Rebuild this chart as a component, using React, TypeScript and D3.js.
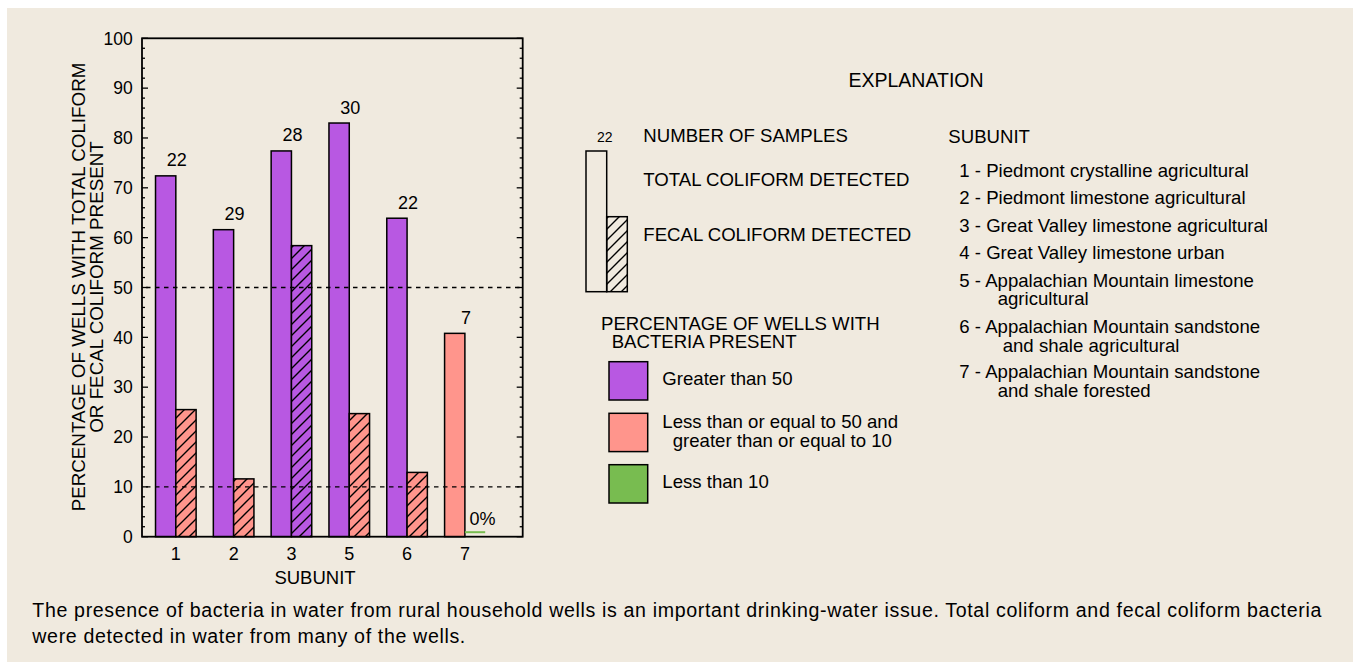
import React from "react";
import * as d3 from "d3";

const subunits = ["1", "2", "3", "5", "6", "7"];
const totalColiform = [72.4, 61.6, 77.4, 83.0, 63.9, 40.8];
const fecalColiform = [25.5, 11.6, 58.4, 24.7, 12.9, 0];
const sampleCounts = [22, 29, 28, 30, 22, 7];
const yTicks = [0, 10, 20, 30, 40, 50, 60, 70, 80, 90, 100];
const thresholds = [10, 50];
const subunitNames = [
  ["1 - Piedmont crystalline agricultural"],
  ["2 - Piedmont limestone agricultural"],
  ["3 - Great Valley limestone agricultural"],
  ["4 - Great Valley limestone urban"],
  ["5 - Appalachian Mountain limestone", "agricultural"],
  ["6 - Appalachian Mountain sandstone", "and shale agricultural"],
  ["7 - Appalachian Mountain sandstone", "and shale forested"],
];
const rangeLabels = [
  ["Greater than 50"],
  ["Less than or equal to 50 and", "greater than or equal to 10"],
  ["Less than 10"],
];

const BG = "#f0eadf";
const PURPLE = "#b858e2";
const PINK = "#ff958c";
const GREEN = "#78bc50";
const FONT = "'Liberation Sans', Arial, Helvetica, sans-serif";

const colorFor = (v: number) => (v > 50 ? PURPLE : v >= 10 ? PINK : GREEN);

export default function App() {
  const left = 142, right = 522.7, top = 38.3, bottom = 536.7;
  const y = d3.scaleLinear().domain([0, 100]).range([bottom, top]);
  const x = d3.scaleLinear().domain([-0.585, 6]).range([left, right]);
  const bw = 20.3;
  const minor = d3.range(0, 101, 2);
  const fs = 17.5;
  const lfs = 18.6;
  const hp = 11;

  return (
    <svg width={1353} height={662} style={{ position: "absolute", left: 0, top: 0 }} fontFamily={FONT}>
      <defs>
        <pattern id="hatch" patternUnits="userSpaceOnUse" width={hp} height={hp}>
          <path d={`M-2,2 L2,-2 M0,${hp} L${hp},0 M${hp - 2},${hp + 2} L${hp + 2},${hp - 2}`} stroke="#000" strokeWidth={1.4} />
        </pattern>
      </defs>
      <rect x={0} y={0} width={1353} height={662} fill="#fff" />
      <rect x={7} y={8} width={1346} height={654} fill={BG} />

      {/* bars */}
      {subunits.map((s, i) => {
        const cx = x(i);
        const t = totalColiform[i];
        const f = fecalColiform[i];
        return (
          <g key={s}>
            <rect x={cx - bw} y={y(t)} width={bw} height={y(0) - y(t)} fill={colorFor(t)} stroke="#000" strokeWidth={1.5} />
            {f > 0 ? (
              <g>
                <rect x={cx} y={y(f)} width={bw} height={y(0) - y(f)} fill={colorFor(f)} />
                <rect x={cx} y={y(f)} width={bw} height={y(0) - y(f)} fill="url(#hatch)" stroke="#000" strokeWidth={1.5} />
              </g>
            ) : (
              <g>
                <line x1={cx} x2={cx + bw} y1={y(0) - 4.5} y2={y(0) - 4.5} stroke={GREEN} strokeWidth={2} />
                <text x={cx + 4.5} y={y(0) - 11.5} fontSize={18}>0%</text>
              </g>
            )}
            <text x={cx + 1} y={y(t) - 9.5} fontSize={18} textAnchor="middle">{sampleCounts[i]}</text>
            <text x={cx} y={560} fontSize={18} textAnchor="middle">{s}</text>
          </g>
        );
      })}

      {/* threshold dashed lines */}
      {thresholds.map((v) => (
        <line key={v} x1={left + 4} x2={right} y1={y(v)} y2={y(v)} stroke="#000" strokeWidth={1.3} strokeDasharray="4.5,4.5" />
      ))}

      {/* ticks */}
      {minor.map((v) => {
        const major = v % 10 === 0;
        const len = major ? 6 : 3;
        return (
          <g key={v}>
            <line x1={left} x2={left + len} y1={y(v)} y2={y(v)} stroke="#000" strokeWidth={1.3} />
            <line x1={right} x2={right - len} y1={y(v)} y2={y(v)} stroke="#000" strokeWidth={1.3} />
          </g>
        );
      })}
      <rect x={left} y={top} width={right - left} height={bottom - top} fill="none" stroke="#000" strokeWidth={1.8} />
      {yTicks.map((v) => (
        <text key={v} x={132.7} y={y(v) + 6.3} fontSize={fs} textAnchor="end">{v}</text>
      ))}

      <text x={315} y={583.5} fontSize={18.5} textAnchor="middle">SUBUNIT</text>
      <g transform="translate(85,287) rotate(-90)">
        <text x={0} y={0} fontSize={18.8} textAnchor="middle">PERCENTAGE OF WELLS WITH TOTAL COLIFORM</text>
        <text x={0} y={17.7} fontSize={18.8} textAnchor="middle">OR FECAL COLIFORM PRESENT</text>
      </g>

      {/* Explanation */}
      <text x={916} y={87} fontSize={19.5} textAnchor="middle">EXPLANATION</text>
      <text x={604.7} y={141.7} fontSize={14} textAnchor="middle">22</text>
      <rect x={586} y={151} width={20.7} height={140.7} fill="none" stroke="#000" strokeWidth={1.5} />
      <rect x={606.7} y={216.7} width={20.6} height={75} fill="url(#hatch)" stroke="#000" strokeWidth={1.5} />
      <text x={643.3} y={142} fontSize={lfs}>NUMBER OF SAMPLES</text>
      <text x={643.3} y={186} fontSize={lfs}>TOTAL COLIFORM DETECTED</text>
      <text x={643.3} y={240.7} fontSize={lfs}>FECAL COLIFORM DETECTED</text>

      <text x={601} y={330} fontSize={lfs}>PERCENTAGE OF WELLS WITH</text>
      <text x={611.7} y={348.3} fontSize={lfs}>BACTERIA PRESENT</text>
      {[PURPLE, PINK, GREEN].map((c, i) => {
        const by = [361.7, 413.3, 464.7][i];
        const ty = [385, 428.3, 487.7][i];
        return (
          <g key={c}>
            <rect x={609} y={by} width={38.7} height={38.3} fill={c} stroke="#000" strokeWidth={1.5} />
            {rangeLabels[i].map((l, j) => (
              <text key={j} x={j === 0 ? 662.3 : 672.7} y={ty + j * 18.4} fontSize={lfs}>{l}</text>
            ))}
          </g>
        );
      })}

      <text x={948.3} y={143.3} fontSize={lfs}>SUBUNIT</text>
      {subunitNames.map((lines, i) => {
        const by = [177.3, 204.3, 232.3, 259.3, 286.7, 333.3, 378.3][i];
        const indent = i === 5 ? 1002.7 : 997.7;
        return (
          <g key={i}>
            {lines.map((l, j) => (
              <text key={j} x={j === 0 ? 959.3 : indent} y={by + j * 18.3} fontSize={lfs}>{l}</text>
            ))}
          </g>
        );
      })}

      <text x={32.3} y={616.7} fontSize={19.6} textLength={1289} lengthAdjust="spacing">The presence of bacteria in water from rural household wells is an important drinking-water issue. Total coliform and fecal coliform bacteria</text>
      <text x={32.3} y={643.3} fontSize={19.6} textLength={433} lengthAdjust="spacing">were detected in water from many of the wells.</text>
    </svg>
  );
}
